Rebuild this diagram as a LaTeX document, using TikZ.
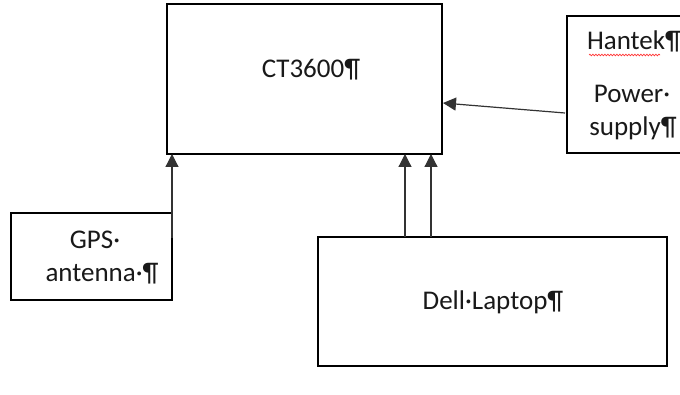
\documentclass[tikz,border=0pt]{standalone}
\usepackage{fontspec}
\setmainfont{Carlito}
\usetikzlibrary{arrows.meta,decorations.pathmorphing}
\begin{document}
\begin{tikzpicture}[x=1pt,y=-1pt,
  box/.style={draw=black,line width=2.4pt,fill=white},
  conn/.style={draw=black!80,line width=1.2pt,-{Triangle[length=13pt,width=13pt]}},
  lbl/.style={font=\fontsize{27}{31}\selectfont,inner sep=0pt,anchor=base,text=black!90}]
\useasboundingbox (0,0) rectangle (680,395);
\begin{scope}
\clip (0,0) rectangle (680,395);
\draw[box] (167,4) rectangle (442,154);
\coordinate (ctb1) at (172,154);
\coordinate (ctb2) at (405,154);
\coordinate (ctb3) at (431,154);
\coordinate (ctr) at (443,103);
\draw[box] (567,16) rectangle (690,153);
\draw[box] (11,213) rectangle (172,300);
\draw[box] (318,237) rectangle (667,366);
\coordinate (gpsin) at (172,238);
\coordinate (dell1) at (405,237);
\coordinate (dell2) at (431,237);
\coordinate (hant) at (565,113);
\draw[conn] (gpsin) -- (ctb1);
\draw[conn] (dell1) -- (ctb2);
\draw[conn] (dell2) -- (ctb3);
\draw[conn] (hant) -- (ctr);
\node[lbl] (ct) at (311,78) {CT3600¶};
\node[lbl] (h1) at (634,50) {Hantek¶};
\draw[red!80,line width=0.7pt,decorate,decoration={snake,amplitude=0.8pt,segment length=3pt}] (589,55) -- (660,55);
\node[lbl] (h2) at (632,103) {Power·};
\node[lbl] (h3) at (633,136) {supply¶};
\node[lbl] (g1) at (95,249) {GPS·};
\node[lbl] (g2) at (102,282) {antenna·¶};
\node[lbl] (dl) at (493,310) {Dell·Laptop¶};
\end{scope}
\end{tikzpicture}
\end{document}
